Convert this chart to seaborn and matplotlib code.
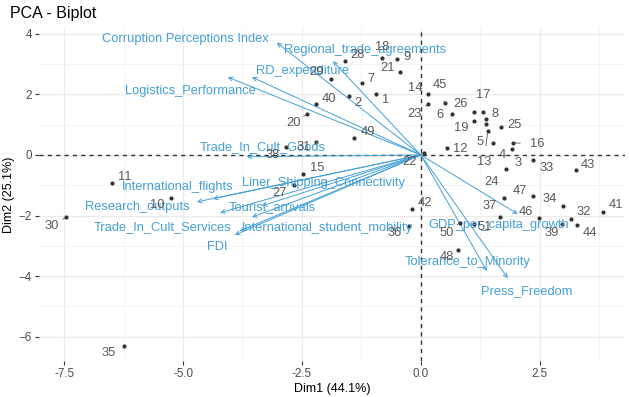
import matplotlib
matplotlib.use("Agg")
import matplotlib.pyplot as plt
import seaborn as sns
import pandas as pd

# individuals (PCA scores)
obs_labels = ["1", "2", "3", "4", "5", "6", "7", "8", "9", "10",
              "11", "12", "13", "14", "15", "16", "17", "18", "19", "20",
              "21", "22", "23", "24", "25", "26", "27", "28", "29", "30",
              "31", "32", "33", "34", "35", "36", "37", "38", "39", "40",
              "41", "42", "43", "44", "45", "46", "47", "48", "49", "50",
              "51", ""]
obs_x = [-0.95, -1.51, 1.79, 1.51, 1.37, 0.65, -1.24, 1.37, -0.50, -5.25,
         -6.49, 0.55, 1.41, 0.15, -2.48, 1.93, 1.30, -0.82, 1.11, -2.39,
         -0.44, 0.06, 0.15, 1.74, 1.68, 1.11, -2.67, -1.60, -1.89, -7.46,
         -2.21, 3.15, 2.37, 3.00, -6.24, -0.25, 1.66, -2.84, 2.96, -2.21,
         3.84, -0.19, 3.26, 3.28, 0.50, 2.48, 2.37, 0.78, -1.41, 0.82,
         1.11, 1.91]
obs_y = [2.01, 1.95, -0.46, 0.40, 1.02, 1.35, 2.38, 1.19, 3.17, -1.42,
         -0.92, 0.23, 0.79, 2.01, -0.63, 0.40, 1.42, 3.20, 1.12, 1.35,
         2.74, 0.07, 1.68, -1.42, 0.92, 1.42, -0.99, 3.10, 2.51, -2.05,
         0.43, -2.11, -0.17, -1.68, -6.30, -2.34, -2.05, 0.26, -2.28, 1.68,
         -1.88, -1.78, -0.50, -2.31, 1.72, -2.08, -1.35, -3.14, 0.56, -2.24,
         -2.28, 0.20]

# variables (arrow tips)
var_names = ["Corruption Perceptions Index", "Regional_trade_agreements",
             "RD_expenditure", "Logistics_Performance", "Trade_In_Cult_Goods",
             "Liner_Shipping_Connectivity", "International_flights",
             "Research_outputs", "Tourist_arrivals", "Trade_In_Cult_Services",
             "International_student_mobility", "FDI", "GDP_per_capita_growth",
             "Tolerance_to_Minority", "Press_Freedom"]
var_x = [-3.03, -1.85, -3.55, -4.06, -3.66, -3.34, -4.37, -4.71, -3.55, -4.22,
         -3.81, -3.91, 2.04, 1.39, 1.83]
var_y = [3.71, 3.10, 2.57, 2.57, -0.06, -1.68, -1.45, -1.55, -2.05, -1.91,
         -2.51, -2.64, -1.95, -3.83, -4.07]

# label offsets in pixels (dx, dy downward), mimicking the repel layout
obs_off = [(10, 6), (9, 7), (12, -6), (10, 12), (-6, 18), (-12, 1), (9, -4), (9, -5), (10, -2), (-14, 7),
           (13, -6), (13, 1), (-4, 31), (-13, -6), (14, -6), (25, 1), (1, -17), (0, -11), (-12, 7), (-14, 9),
           (-12, -4), (-14, 9), (-13, 10), (-12, -16), (14, -2), (-13, -8), (-14, 8), (13, -6), (-14, -7), (-14, 9),
           (-12, 5), (13, -7), (13, 8), (-14, -7), (-15, 7), (-14, 7), (-10, -11), (-13, 8), (-10, 9), (13, -5),
           (13, -7), (13, -6), (12, -5), (13, 8), (-5, -18), (-13, -6), (-14, -5), (-11, 7), (14, -6), (-13, 10),
           (11, 3), (0, 0)]
var_off = [(-91, -4), (32, -11), (51, -6), (-37, 14), (16, -10), (62, -23), (-35, -12),
           (-60, 5), (20, -10), (-58, 14), (88, -3), (-18, 12), (-19, 11), (-19, -9), (19, 13)]

df_obs = pd.DataFrame({"Dim1": obs_x, "Dim2": obs_y, "label": obs_labels})

sns.set_theme(style="whitegrid")
plt.rcParams["font.family"] = ["Liberation Sans", "DejaVu Sans"]

blue = "#45A0D8"
fig = plt.figure(figsize=(6.29, 3.97), dpi=100)
ax = fig.add_axes([0.062, 0.091, 0.932, 0.839])

ax.set_xlim(-8.03, 4.30)
ax.set_ylim(-6.80, 4.20)
ax.set_xticks([-7.5, -5.0, -2.5, 0.0, 2.5])
ax.set_xticklabels(["-7.5", "-5.0", "-2.5", "0.0", "2.5"])
ax.set_yticks([-6, -4, -2, 0, 2, 4])
ax.set_xticks([-6.25, -3.75, -1.25, 1.25, 3.75], minor=True)
ax.set_yticks([-5, -3, -1, 1, 3], minor=True)
ax.grid(True, which="major", color="#EBEBEB", lw=0.9)
ax.grid(True, which="minor", color="#F3F3F3", lw=0.6)
for s in ax.spines.values():
    s.set_visible(False)
ax.tick_params(which="major", length=3, width=0.8, color="#333333",
               labelsize=8.4, labelcolor="#4D4D4D", pad=2, bottom=True, left=True)
ax.tick_params(which="minor", length=0)
ax.set_axisbelow(True)

ax.axhline(0, color="#333333", lw=1.0, ls=(0, (3, 3)), zorder=1)
ax.axvline(0, color="#333333", lw=1.0, ls=(0, (3, 3)), zorder=1)

# variable arrows
for name, vx, vy, (dx, dy) in zip(var_names, var_x, var_y, var_off):
    ax.annotate("", xy=(vx, vy), xytext=(0, 0),
                arrowprops=dict(arrowstyle="->", color=blue, lw=0.7,
                                mutation_scale=7, shrinkA=0, shrinkB=0), zorder=2)
    ax.annotate(name, xy=(vx, vy), xytext=(dx, -dy), textcoords="offset pixels",
                ha="center", va="center", color=blue, fontsize=9.3, zorder=4)

# individuals
sns.scatterplot(data=df_obs, x="Dim1", y="Dim2", ax=ax, color="#333333",
                s=9, linewidth=0, zorder=3)
for lab, px, py, (dx, dy) in zip(obs_labels, obs_x, obs_y, obs_off):
    if not lab:
        continue
    far = abs(dx) + abs(dy) > 22
    ax.annotate(lab, xy=(px, py), xytext=(dx, -dy), textcoords="offset pixels",
                ha="center", va="center", color="#595959", fontsize=9.3, zorder=4,
                arrowprops=dict(arrowstyle="-", color="#595959", lw=0.6,
                                shrinkA=5, shrinkB=1) if far else None)

ax.set_xlabel("Dim1 (44.1%)", fontsize=9, color="black", labelpad=2)
ax.set_ylabel("Dim2 (25.1%)", fontsize=9, color="black", labelpad=3)
fig.text(0.016, 0.967, "PCA - Biplot", fontsize=11.5, color="black",
         ha="left", va="center")

plt.savefig("out.png", dpi=100)
plt.close()
